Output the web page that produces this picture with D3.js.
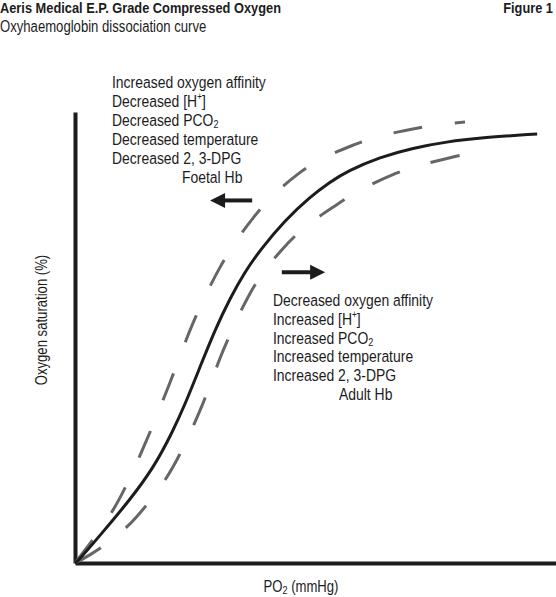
<!DOCTYPE html>
<html lang="en">
<head>
<meta charset="utf-8">
<title>Oxyhaemoglobin dissociation curve</title>
<script src="https://cdn.jsdelivr.net/npm/d3@7"></script>
<style>
  body { margin: 0; background: #fff; }
  text { font-family: "Liberation Sans", Arial, sans-serif; fill: #1c1c1c; }
</style>
</head>
<body>
<div id="chart"></div>
<script>
// values: PO2 (mmHg) and saturation (%)
var normalPO2 = [0, 1.0, 6.7, 13.7, 19.7, 24.2, 27.4, 31.2, 34.9, 38.7, 42.4, 46.2, 52.4, 58.6, 63.6, 67.9, 76.1, 84.3, 92.8, 101.0, 115.3];
var normalSat = [0, 0.7, 6.8, 14.4, 21.9, 29.7, 36.1, 44.8, 53.2, 60.5, 66.5, 71.5, 78.3, 83.6, 87.0, 89.5, 92.7, 94.8, 96.2, 97.1, 98.0];

// shifted left (higher affinity)
var leftPO2 = [0, 2.7, 11.1, 17.7, 23.6, 29.3, 36.1, 44.7, 56.0, 69.9, 85.3, 97.3];
var leftSat = [0, 3.2, 14.7, 27.7, 41.0, 54.5, 67.4, 79.1, 89.1, 95.6, 99.3, 100.7];

// shifted right (lower affinity)
var rightPO2 = [0, 3.6, 15.5, 24.6, 31.4, 37.0, 43.8, 53.1, 65.4, 79.3, 93.3, 97.5];
var rightSat = [0, 1.8, 10.7, 22.2, 35.3, 48.6, 61.8, 73.0, 81.9, 88.7, 92.5, 93.4];

var leftNotes = ["Increased oxygen affinity", "Decreased [H|+|]", "Decreased PCO|_2", "Decreased temperature", "Decreased 2, 3-DPG"];
var leftLabel = "Foetal Hb";
var rightNotes = ["Decreased oxygen affinity", "Increased [H|+|]", "Increased PCO|_2", "Increased temperature", "Increased 2, 3-DPG"];
var rightLabel = "Adult Hb";

var width = 556, height = 597;
var narrow = 0.82;   // condensed look

var svg = d3.select("#chart")
  .append("svg")
    .attr("width", width)
    .attr("height", height);

var x = d3.scaleLinear().domain([0, 120]).range([75, 556]);
var y = d3.scaleLinear().domain([0, 103]).range([563, 112]);

// text helper: squeeze horizontally
function ctext(px, py, size, sx) {
  return svg.append("text")
    .attr("transform", "translate(" + px + "," + py + ") scale(" + (sx || narrow) + ",1)")
    .attr("font-size", size);
}

// header
ctext(0, 13, 15, 0.855).attr("font-weight", "bold")
  .text("Aeris Medical E.P. Grade Compressed Oxygen");
ctext(553, 13, 15, 0.855).attr("font-weight", "bold").attr("text-anchor", "end")
  .text("Figure 1");
ctext(0, 32, 16).text("Oxyhaemoglobin dissociation curve");

// axes, no ticks
svg.append("g")
  .attr("transform", "translate(" + x(0) + ",0)")
  .call(d3.axisLeft(y).tickValues([]).tickSizeOuter(0))
  .select(".domain").attr("stroke", "#1c1c1c").attr("stroke-width", 4);
svg.append("g")
  .attr("transform", "translate(0," + y(0) + ")")
  .call(d3.axisBottom(x).tickValues([]).tickSizeOuter(0))
  .select(".domain").attr("stroke", "#1c1c1c").attr("stroke-width", 4);

// curves
var dashLine = d3.line()
  .x(d => x(d[0]))
  .y(d => y(d[1]))
  .curve(d3.curveMonotoneX);
var solidLine = d3.line()
  .x(d => x(d[0]))
  .y(d => y(d[1]))
  .curve(d3.curveBasis);

function pairs(xs, ys) { return xs.map((v, i) => [v, ys[i]]); }

svg.append("path")
  .datum(pairs(leftPO2, leftSat))
  .attr("fill", "none")
  .attr("stroke", "#666")
  .attr("stroke-width", 3)
  .attr("stroke-dasharray", "29,33")
  .attr("d", dashLine);

svg.append("path")
  .datum(pairs(rightPO2, rightSat))
  .attr("fill", "none")
  .attr("stroke", "#666")
  .attr("stroke-width", 3)
  .attr("stroke-dasharray", "30,32")
  .attr("d", dashLine);

svg.append("path")
  .datum(pairs(normalPO2, normalSat))
  .attr("fill", "none")
  .attr("stroke", "#1c1c1c")
  .attr("stroke-width", 3)
  .attr("d", solidLine);

// arrows
function arrow(x0, x1, yv) {
  var dir = x1 > x0 ? 1 : -1;
  var px0 = x(x0), px1 = x(x1), py = y(yv);
  svg.append("line")
    .attr("x1", px0).attr("y1", py)
    .attr("x2", px1 - dir * 12).attr("y2", py)
    .attr("stroke", "#1c1c1c").attr("stroke-width", 4);
  svg.append("path")
    .attr("d", "M" + px1 + "," + py + "L" + (px1 - dir * 15) + "," + (py - 7.5) + "L" + (px1 - dir * 15) + "," + (py + 7.5) + "Z")
    .attr("fill", "#1c1c1c");
}
arrow(44.2, 33.7, 82.8);
arrow(51.6, 62.4, 66.4);

// note lines; "|+|" marks superscript, "|_" subscript
function richText(px, py, s) {
  var el = ctext(px, py, 17);
  var sup = s.split("|+|");
  if (sup.length > 1) {
    el.append("tspan").text(sup[0]);
    el.append("tspan").attr("font-size", 10).attr("dy", -7).text("+");
    el.append("tspan").attr("dy", 7).text(sup[1]);
    return;
  }
  var sub = s.split("|_");
  if (sub.length > 1) {
    el.append("tspan").text(sub[0]);
    el.append("tspan").attr("font-size", 11).attr("dy", 2).text(sub[1]);
    return;
  }
  el.text(s);
}

leftNotes.forEach(function(s, i) { richText(112, 88 + i * 19, s); });
ctext(182, 88 + 5 * 19, 17).text(leftLabel);

rightNotes.forEach(function(s, i) { richText(273, 306 + i * 18.8, s); });
ctext(339, 306 + 5 * 18.8, 17).text(rightLabel);

// axis labels
svg.append("text")
  .attr("text-anchor", "middle")
  .attr("transform", "translate(47,320) rotate(-90) scale(" + narrow + ",1)")
  .attr("font-size", 16)
  .text("Oxygen saturation (%)");

var xl = ctext(301, 592, 16).attr("text-anchor", "middle");
xl.append("tspan").text("PO");
xl.append("tspan").attr("font-size", 11).attr("dy", 2).text("2");
xl.append("tspan").attr("dy", -2).text(" (mmHg)");
</script>
</body>
</html>
